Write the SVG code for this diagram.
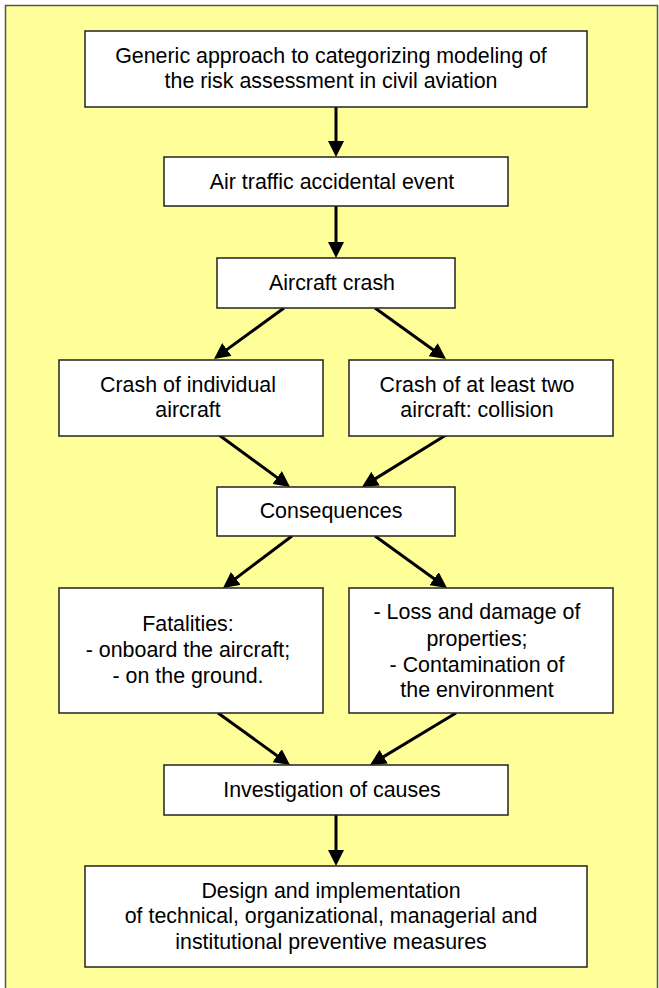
<svg xmlns="http://www.w3.org/2000/svg" width="659" height="988" viewBox="0 0 659 988">
<style>
.box{fill:#ffffff;stroke:#222222;stroke-width:1.5}
.t{font-family:"Liberation Sans",Arial,sans-serif;font-size:21.4px;fill:#000000;text-anchor:middle}
.c{stroke:#000000;stroke-width:3;fill:none;marker-end:url(#ah)}
</style>
<defs>
<marker id="ah" markerUnits="userSpaceOnUse" markerWidth="16" markerHeight="16" refX="12" refY="8" orient="auto" viewBox="0 0 16 16">
<path d="M0,0 L16,8 L0,16 Z" fill="#000000"/>
</marker>
</defs>
<rect x="5.5" y="5.5" width="652" height="990" fill="#ffff99" stroke="#555555" stroke-width="1.5"/>
<g id="connectors">
<line class="c" x1="336" y1="107" x2="336" y2="153"/>
<line class="c" x1="336" y1="206" x2="336" y2="254"/>
<line class="c" x1="284" y1="308" x2="217.2" y2="356.6"/>
<line class="c" x1="375" y1="308" x2="442.8" y2="356.7"/>
<line class="c" x1="219" y1="435" x2="286.8" y2="484.6"/>
<line class="c" x1="446" y1="435" x2="365.4" y2="484.9"/>
<line class="c" x1="292" y1="536" x2="226.2" y2="585.6"/>
<line class="c" x1="375" y1="536" x2="443.8" y2="585.7"/>
<line class="c" x1="218" y1="713" x2="286.8" y2="762.7"/>
<line class="c" x1="456" y1="713" x2="373.4" y2="762.9"/>
<line class="c" x1="336" y1="815" x2="336" y2="862"/>
</g>
<g id="n1"><rect class="box" x="85" y="31" width="502" height="76"/>
<text class="t" x="331" y="63">Generic approach to categorizing modeling of</text>
<text class="t" x="331" y="88">the risk assessment in civil aviation</text></g>
<g id="n2"><rect class="box" x="164" y="157" width="344" height="49"/>
<text class="t" x="332" y="189">Air traffic accidental event</text></g>
<g id="n3"><rect class="box" x="217" y="258" width="238" height="50"/>
<text class="t" x="332" y="290">Aircraft crash</text></g>
<g id="n4"><rect class="box" x="59" y="360" width="264" height="76"/>
<text class="t" x="188" y="392">Crash of individual</text>
<text class="t" x="188" y="417">aircraft</text></g>
<g id="n5"><rect class="box" x="349" y="360" width="264" height="76"/>
<text class="t" x="477" y="392">Crash of at least two</text>
<text class="t" x="477" y="417">aircraft: collision</text></g>
<g id="n6"><rect class="box" x="217" y="487" width="238" height="49"/>
<text class="t" x="331" y="518">Consequences</text></g>
<g id="n7"><rect class="box" x="59" y="588" width="264" height="125"/>
<text class="t" x="188" y="631">Fatalities:</text>
<text class="t" x="188" y="657">- onboard the aircraft;</text>
<text class="t" x="188" y="683">- on the ground.</text></g>
<g id="n8"><rect class="box" x="349" y="588" width="264" height="125"/>
<text class="t" x="477" y="619">- Loss and damage of</text>
<text class="t" x="477" y="646">properties;</text>
<text class="t" x="477" y="672">- Contamination of</text>
<text class="t" x="477" y="697">the environment</text></g>
<g id="n9"><rect class="box" x="164" y="765" width="344" height="50"/>
<text class="t" x="332" y="797">Investigation of causes</text></g>
<g id="n10"><rect class="box" x="85" y="866" width="502" height="101"/>
<text class="t" x="331" y="898">Design and implementation</text>
<text class="t" x="331" y="923">of technical, organizational, managerial and</text>
<text class="t" x="331" y="949">institutional preventive measures</text></g>
</svg>
